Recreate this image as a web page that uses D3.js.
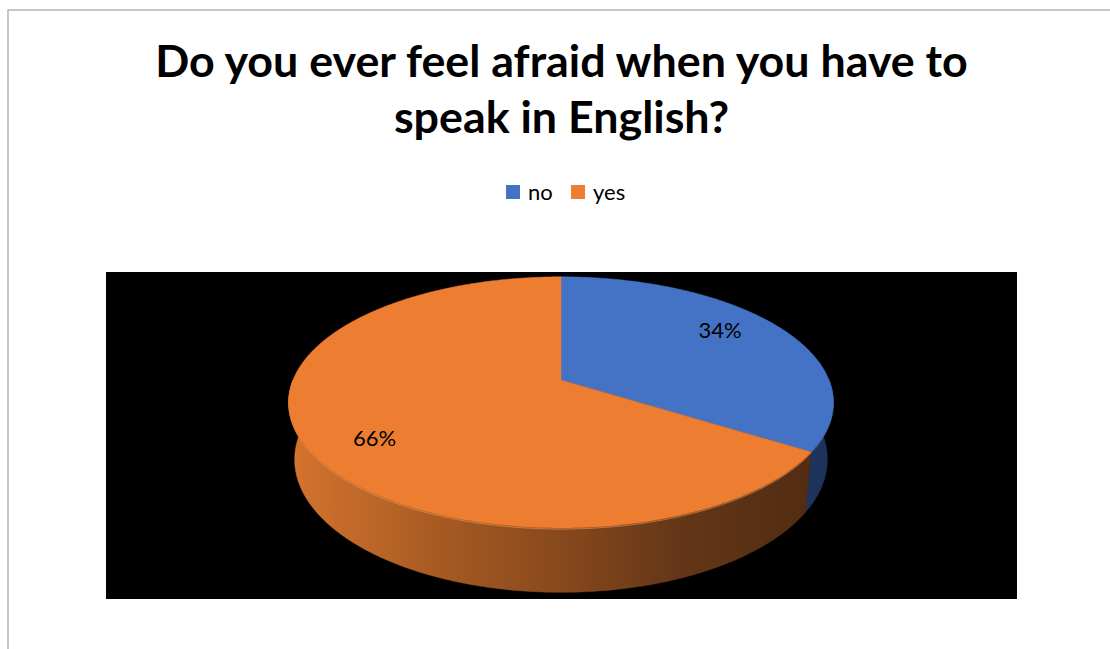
<!DOCTYPE html>
<html>
<head>
<meta charset="utf-8">
<script src="https://cdn.jsdelivr.net/npm/d3@7"></script>
<style>
  html, body { margin: 0; padding: 0; background: #fff; }
  svg { display: block; }
</style>
</head>
<body>
<svg id="chart" width="1110" height="649"></svg>
<script>
// Survey answers
const categories = ["no", "yes"];
const shares = [34, 66];
const labels = ["34%", "66%"];
const titleLines = ["Do you ever feel afraid when you have to", "speak in English?"];

const topColors = ["#4472C4", "#ED7D31"];

const W = 1110, H = 649;
const svg = d3.select("#chart");
const defs = svg.append("defs");

// Outer frame (only top and left edges fall inside the window)
svg.append("rect")
  .attr("x", 8).attr("y", 10).attr("width", W + 20).attr("height", H + 20)
  .attr("fill", "#fff").attr("stroke", "#ababab").attr("stroke-width", 1.3);

// Title
const FONT = "Lato, 'Open Sans', sans-serif";
const title = svg.append("g").attr("font-family", FONT).attr("font-weight", 700)
  .attr("fill", "#000").attr("text-anchor", "middle");
const t1 = title.append("text").attr("x", 561.5).attr("y", 77).text(titleLines[0]);
const t2 = title.append("text").attr("x", 561.5).attr("y", 133).text(titleLines[1]);
// size the title so the first line spans the header width
title.attr("font-size", 40);
const w40 = t1.node().getComputedTextLength();
title.attr("font-size", 40 * 813 / w40);

// Legend
const legend = svg.append("g").attr("font-family", FONT).attr("font-size", 22).attr("fill", "#000");
const legendX = [506, 571];
categories.forEach((c, i) => {
  legend.append("rect").attr("x", legendX[i]).attr("y", 185).attr("width", 14).attr("height", 14)
    .attr("fill", topColors[i]);
  legend.append("text").attr("x", legendX[i] + 22).attr("y", 200).text(c);
});

// Plot area
const plot = { x: 106, y: 272, w: 911, h: 327 };
svg.append("rect").attr("x", plot.x).attr("y", plot.y).attr("width", plot.w).attr("height", plot.h)
  .attr("fill", "#000");

// 3D pie: disc of radius 1 and thickness `depth`, tilted toward the viewer, perspective projection
const cx = 561, cy = 380;
const tilt = Math.asin(0.4537);
const camDist = 5;
const focal = 1340;
const depth = 0.241;
const sT = Math.sin(tilt), cT = Math.cos(tilt);

function project(a, r, y) {
  const x3 = r * Math.sin(a), z3 = -r * Math.cos(a);
  const v = y * cT - z3 * sT;
  const w = z3 * cT + y * sT;
  const d = camDist - w;
  return [cx + focal * x3 / d, cy - focal * v / d];
}

function arcPoints(a0, a1, r, y) {
  const n = Math.max(2, Math.ceil(Math.abs(a1 - a0) / (Math.PI / 360)));
  return d3.range(n + 1).map(i => project(a0 + (a1 - a0) * i / n, r, y));
}

const pie = d3.pie().sort(null).value(d => d)(shares);
const line = d3.line().curve(d3.curveLinear);

// Side shading: lit from the left
const sideGrad = defs.append("linearGradient").attr("id", "sideOrange")
  .attr("gradientUnits", "userSpaceOnUse").attr("x1", 290).attr("x2", 835).attr("y1", 0).attr("y2", 0);
[[0, "#d4742f"], [0.28, "#a65a22"], [0.5, "#87481d"], [0.72, "#633617"], [1, "#4f2a12"]]
  .forEach(([o, c]) => sideGrad.append("stop").attr("offset", o).attr("stop-color", c));
const blueGrad = defs.append("linearGradient").attr("id", "sideBlue")
  .attr("gradientUnits", "userSpaceOnUse").attr("x1", 290).attr("x2", 835).attr("y1", 0).attr("y2", 0);
[[0, "#3a62a8"], [0.8, "#243d6c"], [1, "#1d3159"]]
  .forEach(([o, c]) => blueGrad.append("stop").attr("offset", o).attr("stop-color", c));
const sideFills = ["url(#sideBlue)", "url(#sideOrange)"];

const pieG = svg.append("g");

// visible outer walls (front half of the disc)
pie.forEach((p, i) => {
  const a0 = Math.max(p.startAngle, Math.PI / 2);
  const a1 = Math.min(p.endAngle, 3 * Math.PI / 2);
  if (a1 <= a0) return;
  const pts = arcPoints(a0, a1, 1, 0).concat(arcPoints(a1, a0, 1, -depth));
  pieG.append("path").attr("d", line(pts) + "Z").attr("fill", sideFills[i])
    .attr("stroke", sideFills[i]).attr("stroke-width", 0.5);
  // faint highlight along the top rim
  pieG.append("path").attr("d", line(arcPoints(a0, a1, 1, -0.004)))
    .attr("fill", "none").attr("stroke", i === 0 ? "#5b80c8" : "#f09a5c")
    .attr("stroke-opacity", 0.6).attr("stroke-width", 1);
});

// top faces
pie.forEach((p, i) => {
  const pts = [project(0, 0, 0)].concat(arcPoints(p.startAngle, p.endAngle, 1, 0));
  pieG.append("path").attr("d", line(pts) + "Z").attr("fill", topColors[i])
    .attr("stroke", topColors[i]).attr("stroke-width", 0.5);
});

// data labels, placed slightly counter-clockwise of each slice's middle
const labelShift = 6 * Math.PI / 180;
pie.forEach((p, i) => {
  const mid = (p.startAngle + p.endAngle) / 2 - labelShift;
  const [px, py] = project(mid, 0.78, 0);
  svg.append("text").attr("x", px).attr("y", py).attr("dy", "0.35em")
    .attr("text-anchor", "middle").attr("font-family", FONT).attr("font-size", 22)
    .attr("fill", "#000").text(labels[i]);
});
</script>
</body>
</html>
